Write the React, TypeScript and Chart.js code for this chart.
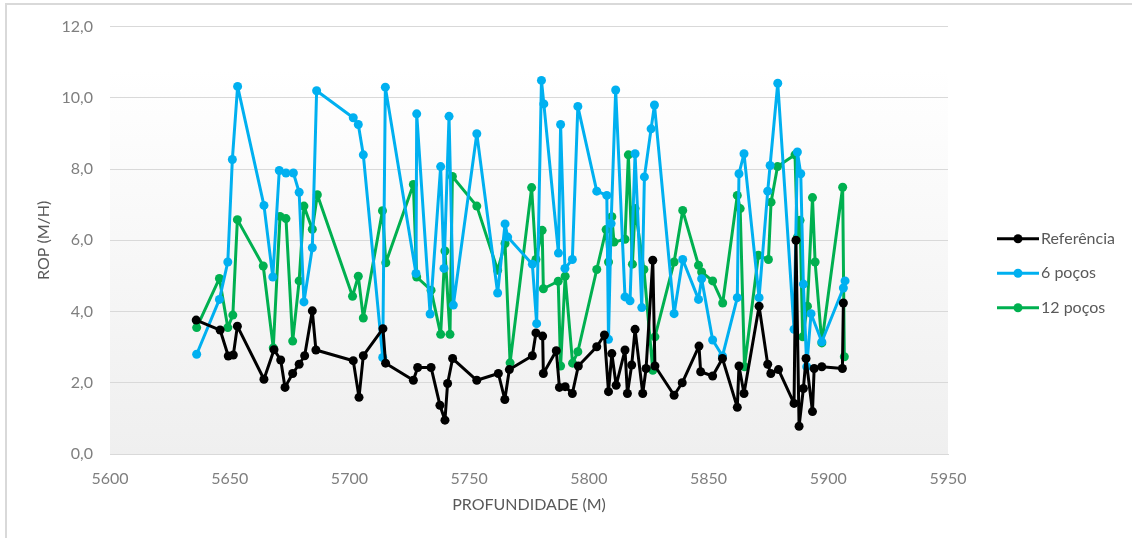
import React, { useEffect, useRef } from "react";
import { Chart, registerables } from "chart.js";

Chart.register(...registerables);

// ---- data ----
const refDepth = [5636, 5646, 5649.4, 5651.5, 5653.2, 5664.3, 5668.5, 5671.3, 5673.1, 5676.3, 5679.0, 5681.3, 5684.5, 5686.0, 5701.6, 5704.0, 5705.8, 5714.0, 5715.1, 5726.7, 5728.5, 5734.1, 5737.8, 5739.9, 5741.0, 5743.1, 5753.2, 5762.2, 5764.9, 5766.8, 5776.4, 5777.9, 5780.7, 5781.0, 5786.4, 5787.7, 5790.1, 5793.1, 5795.6, 5803.3, 5806.5, 5808.2, 5809.6, 5811.4, 5815.1, 5816.1, 5817.9, 5819.3, 5822.5, 5823.9, 5826.7, 5827.6, 5835.6, 5839.0, 5846.0, 5846.7, 5851.7, 5855.8, 5862.0, 5862.7, 5864.8, 5871.1, 5874.7, 5876.0, 5879.2, 5885.7, 5886.5, 5887.8, 5889.6, 5890.7, 5893.4, 5894.1, 5897.3, 5905.9, 5906.3];
const refRop = [3.76, 3.48, 2.75, 2.78, 3.59, 2.10, 2.93, 2.64, 1.87, 2.26, 2.52, 2.76, 4.02, 2.92, 2.62, 1.59, 2.76, 3.52, 2.55, 2.07, 2.43, 2.43, 1.37, 0.95, 1.98, 2.68, 2.07, 2.26, 1.53, 2.37, 2.76, 3.40, 3.31, 2.26, 2.90, 1.87, 1.89, 1.70, 2.47, 3.01, 3.34, 1.75, 2.82, 1.93, 2.92, 1.70, 2.50, 3.50, 1.70, 2.40, 5.44, 2.47, 1.65, 2.00, 3.03, 2.31, 2.19, 2.68, 1.31, 2.47, 1.70, 4.15, 2.52, 2.26, 2.37, 1.42, 6.00, 0.78, 1.84, 2.68, 1.19, 2.40, 2.45, 2.40, 4.24];

const p6Depth = [5636.2, 5645.7, 5649.2, 5651.1, 5653.3, 5664.3, 5668.0, 5670.7, 5673.5, 5676.6, 5679.0, 5681.0, 5684.5, 5686.3, 5701.6, 5703.7, 5705.8, 5713.9, 5715.0, 5727.8, 5728.1, 5733.7, 5738.1, 5739.5, 5741.6, 5743.4, 5753.2, 5761.9, 5765.0, 5766.1, 5776.4, 5778.2, 5780.2, 5781.2, 5787.3, 5788.2, 5790.0, 5793.1, 5795.4, 5803.3, 5807.5, 5808.2, 5809.3, 5811.2, 5815.1, 5817.2, 5819.3, 5822.1, 5823.2, 5826.0, 5827.4, 5835.6, 5839.2, 5845.8, 5847.1, 5851.7, 5855.8, 5862.0, 5862.7, 5864.8, 5871.1, 5874.7, 5875.7, 5878.9, 5885.7, 5887.1, 5888.5, 5889.6, 5891.0, 5892.8, 5897.3, 5906.3, 5907.0];
const p6Rop = [2.80, 4.34, 5.39, 8.27, 10.32, 6.98, 4.97, 7.96, 7.89, 7.89, 7.35, 4.27, 5.79, 10.20, 9.44, 9.25, 8.40, 2.71, 10.30, 5.07, 9.55, 3.93, 8.07, 5.21, 9.48, 4.18, 8.99, 4.52, 6.46, 6.09, 5.33, 3.66, 10.49, 9.83, 5.64, 9.25, 5.21, 5.46, 9.76, 7.38, 7.26, 3.22, 6.47, 10.22, 4.41, 4.30, 8.43, 4.11, 7.78, 9.13, 9.80, 3.94, 5.46, 4.34, 4.92, 3.20, 2.75, 4.39, 7.87, 8.43, 4.39, 7.38, 8.10, 10.41, 3.50, 8.48, 7.87, 4.77, 2.45, 3.94, 3.15, 4.66, 4.86];

const p12Depth = [5636.2, 5645.7, 5649.2, 5651.3, 5653.2, 5664.0, 5668.2, 5671.0, 5673.5, 5676.3, 5679.0, 5681.0, 5684.5, 5686.6, 5701.3, 5703.7, 5705.8, 5713.8, 5715.2, 5726.7, 5728.1, 5734.1, 5738.1, 5739.9, 5742.0, 5743.0, 5753.2, 5761.9, 5765.0, 5767.1, 5776.1, 5777.9, 5780.5, 5781.0, 5787.2, 5788.2, 5790.1, 5793.2, 5795.4, 5803.3, 5807.2, 5808.2, 5809.6, 5810.5, 5815.1, 5816.5, 5818.2, 5819.3, 5823.0, 5826.7, 5827.6, 5835.6, 5839.2, 5845.8, 5847.1, 5851.7, 5855.9, 5862.0, 5863.2, 5865.0, 5870.8, 5875.0, 5876.1, 5878.8, 5886.1, 5887.1, 5888.2, 5889.3, 5891.3, 5893.4, 5894.5, 5897.3, 5906.0, 5906.7];
const p12Rop = [3.55, 4.93, 3.55, 3.90, 6.58, 5.28, 2.98, 6.67, 6.61, 3.17, 4.86, 6.96, 6.31, 7.28, 4.43, 4.99, 3.82, 6.83, 5.37, 7.57, 4.97, 4.60, 3.36, 5.70, 3.36, 7.79, 6.96, 5.16, 5.91, 2.56, 7.48, 5.46, 6.28, 4.64, 4.85, 2.47, 4.99, 2.55, 2.87, 5.18, 6.30, 5.39, 6.66, 5.95, 6.03, 8.40, 5.33, 6.89, 5.18, 2.35, 3.29, 5.39, 6.84, 5.30, 5.11, 4.86, 4.24, 7.26, 6.89, 2.45, 5.58, 5.46, 7.07, 8.07, 8.40, 6.09, 6.56, 3.29, 4.15, 7.20, 5.39, 3.12, 7.49, 2.73];

const seriesNames = ["Referência", "6 poços", "12 poços"];
const seriesColors = ["#000000", "#00B0F0", "#00B050"];
const xTicks = [5600, 5650, 5700, 5750, 5800, 5850, 5900, 5950];
const yTicks = [0, 2, 4, 6, 8, 10, 12];
const xTitle = "PROFUNDIDADE (M)";
const yTitle = "ROP (M/H)";

const FONT = "Lato, 'Open Sans', sans-serif";

const toPoints = (xs: number[], ys: number[]) => xs.map((x, i) => ({ x, y: ys[i] }));

const bgPlugin = {
  id: "plotBg",
  beforeDraw(chart: any) {
    const { ctx, chartArea } = chart;
    if (!chartArea) return;
    const g = ctx.createLinearGradient(0, chartArea.top, 0, chartArea.bottom);
    g.addColorStop(0, "#ffffff");
    g.addColorStop(0.1, "#ffffff");
    g.addColorStop(1, "#efefef");
    ctx.save();
    ctx.fillStyle = g;
    ctx.fillRect(chartArea.left, chartArea.top, chartArea.right - chartArea.left, chartArea.bottom - chartArea.top);
    ctx.restore();
  },
};

const legendPlugin = {
  id: "sideLegend",
  afterDraw(chart: any) {
    const { ctx, chartArea } = chart;
    const x0 = chartArea.right + 49;
    const midY = (chartArea.top + chartArea.bottom) / 2 + 33;
    const gap = 34.5;
    ctx.save();
    chart.data.datasets.forEach((ds: any, i: number) => {
      const y = midY + (i - 1) * gap;
      ctx.strokeStyle = ds.borderColor;
      ctx.lineWidth = 3;
      ctx.beginPath();
      ctx.moveTo(x0, y);
      ctx.lineTo(x0 + 42, y);
      ctx.stroke();
      ctx.fillStyle = ds.borderColor;
      ctx.beginPath();
      ctx.arc(x0 + 21, y, 4.5, 0, Math.PI * 2);
      ctx.fill();
      ctx.fillStyle = "#595959";
      ctx.font = `16px ${FONT}`;
      ctx.textBaseline = "middle";
      ctx.textAlign = "left";
      ctx.fillText(ds.label, x0 + 44, y);
    });
    ctx.restore();
  },
};

export default function App() {
  const canvasRef = useRef<HTMLCanvasElement | null>(null);

  useEffect(() => {
    if (!canvasRef.current) return;
    const data = [toPoints(refDepth, refRop), toPoints(p6Depth, p6Rop), toPoints(p12Depth, p12Rop)];
    const chart = new Chart(canvasRef.current, {
      type: "scatter",
      data: {
        datasets: data.map((d, i) => ({
          label: seriesNames[i],
          data: d,
          showLine: true,
          borderColor: seriesColors[i],
          backgroundColor: seriesColors[i],
          borderWidth: 3,
          borderJoinStyle: "round",
          borderCapStyle: "round",
          pointRadius: 4.5,
          pointBorderWidth: 0,
          pointHoverRadius: 4.5,
          tension: 0,
        })),
      },
      options: {
        animation: false,
        responsive: false,
        layout: { padding: { left: 0, top: 26, right: 184, bottom: 0 } },
        plugins: { legend: { display: false }, tooltip: { enabled: false } },
        scales: {
          x: {
            type: "linear",
            min: 5600,
            max: 5950,
            afterFit: (s: any) => { s.height = 84; },
            afterBuildTicks: (s: any) => { s.ticks = xTicks.map((v) => ({ value: v })); },
            grid: { display: false, drawTicks: false },
            border: { display: true, color: "#d9d9d9", width: 1 },
            ticks: {
              padding: 15,
              color: "#7f7f7f",
              font: { family: FONT, size: 16 },
              maxRotation: 0,
              callback: (v: any) => String(v),
            },
            title: {
              display: true,
              text: xTitle,
              color: "#595959",
              font: { family: FONT, size: 16 },
              padding: { top: 0, bottom: 24 },
            },
          },
          y: {
            type: "linear",
            min: 0,
            max: 12,
            afterFit: (s: any) => { s.width = 110; },
            afterBuildTicks: (s: any) => { s.ticks = yTicks.map((v) => ({ value: v })); },
            grid: { color: "#d9d9d9", lineWidth: 1, drawTicks: false },
            border: { display: false },
            ticks: {
              padding: 17,
              color: "#7f7f7f",
              font: { family: FONT, size: 16 },
              callback: (v: any) => Number(v).toFixed(1).replace(".", ","),
            },
            title: {
              display: true,
              text: yTitle,
              color: "#595959",
              font: { family: FONT, size: 16 },
              padding: { top: 34, bottom: 0 },
            },
          },
        },
      },
      plugins: [bgPlugin, legendPlugin],
    });
    return () => chart.destroy();
  }, []);

  return (
    <div style={{ position: "absolute", left: 0, top: 0, width: 1132, height: 538, background: "#ffffff", overflow: "hidden" }}>
      <canvas ref={canvasRef} width={1132} height={538} style={{ position: "absolute", left: 0, top: 0 }} />
      <div style={{ position: "absolute", left: 5, top: 3, width: 1140, height: 545, border: "2px solid #d9d9d9", pointerEvents: "none" }} />
    </div>
  );
}
